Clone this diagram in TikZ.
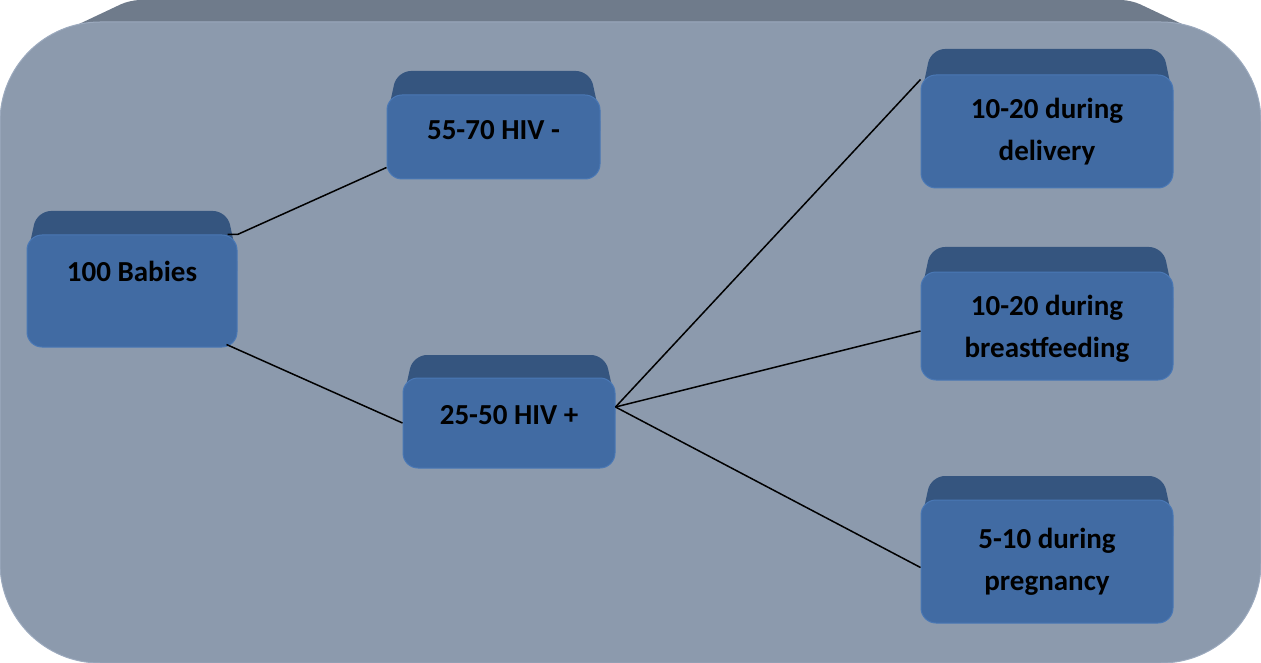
\documentclass[tikz,border=0pt]{standalone}
\usepackage{fontspec}
\setmainfont{Carlito}
\definecolor{bgface}{HTML}{8C9AAD}
\definecolor{bgtop}{HTML}{6F7B8B}
\definecolor{bgrim}{HTML}{9CAABE}
\definecolor{boxblue}{HTML}{416BA3}
\definecolor{boxtop}{HTML}{35557F}
\definecolor{boxrim}{HTML}{4A78B5}

% #1 extra node options, #2 name, #3 left, #4 front top, #5 right, #6 bottom, #7 back top, #8 text
\newcommand\cubebox[8][]{%
  \fill[boxtop, rounded corners=14pt]
    (#3,#4+22) -- (#3+10,#7) -- (#5-10,#7) -- (#5,#4+22) -- (#5,#4+40) -- (#3,#4+40) -- cycle;
  \node[boxface, minimum width={(#5-#3)*1pt}, minimum height={(#6-#4)*1pt}, #1]
    (#2) at ({(#3+#5)/2},{(#4+#6)/2}) {#8};
}

\begin{document}
\begin{tikzpicture}[x=1pt, y=-1pt,
  boxface/.style={rectangle, rounded corners=15pt, fill=boxblue, draw=boxrim,
    line width=1pt, inner sep=0pt, align=center, text=black,
    font=\fontsize{29}{42}\selectfont\bfseries},
  link/.style={draw=black, line width=1.5pt}]
\useasboundingbox (0,0) rectangle (1261,663);

% panel: bevelled top and front face
\fill[bgtop, rounded corners=10pt]
  (60,33) -- (130,0) -- (1131,0) -- (1201,33) -- (1160,100) -- (100,100) -- cycle;
\path[fill=bgface, draw=bgrim, line width=1pt, rounded corners=100pt]
  (0,22) rectangle (1261,663);

% boxes
\cubebox[text height=10pt, text depth=29.4pt]{babies}{27}{235}{237}{347}{211}{100 Babies}
\cubebox[text height=20pt, text depth=15.4pt]{neg}{387}{95}{600}{179}{71}{55-70 HIV -}
\cubebox[text height=20pt, text depth=17.4pt]{pos}{403}{378}{615}{468}{355}{25-50 HIV +}
\cubebox{deliv}{921}{75}{1173}{188}{49}{10-20 during\\delivery}
\cubebox[text depth=-4pt]{breast}{921}{272}{1173}{380}{247}{10-20 during\\breastfeeding}
\cubebox{preg}{921}{500}{1173}{623}{476}{5-10 during\\pregnancy}

% connectors
\coordinate (hub) at ([yshift=16pt]pos.east);
\draw[link] ([xshift=-10pt]babies.north east) -- (babies.north east) -- ([yshift=12pt]neg.south west);
\draw[link] ([xshift=-11pt,yshift=3pt]babies.south east) -- (pos.west);
\draw[link] (hub) -- ([yshift=-5pt]deliv.north west);
\draw[link] (hub) -- ([yshift=-5pt]breast.west);
\draw[link] (hub) -- ([yshift=-6pt]preg.west);
\end{tikzpicture}
\end{document}
